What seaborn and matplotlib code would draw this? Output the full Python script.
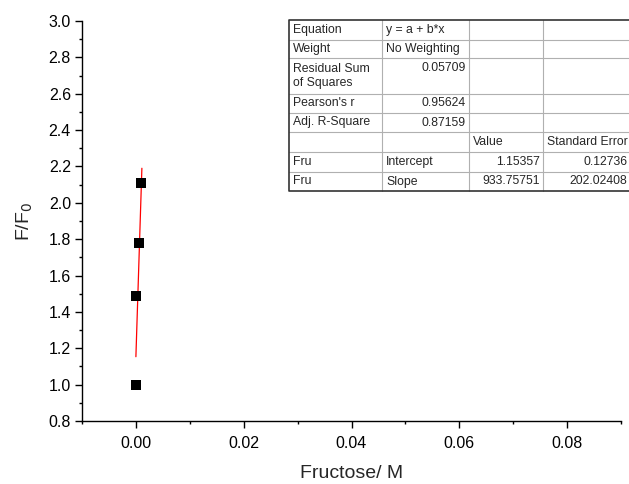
import matplotlib
matplotlib.use("Agg")
import matplotlib.pyplot as plt
import seaborn as sns
import numpy as np
import pandas as pd
from matplotlib.ticker import MultipleLocator, FormatStrFormatter
from matplotlib.lines import Line2D

# ---- data ----
fructose = [0.0, 0.0001, 0.0005, 0.001]
ff0 = [1.0, 1.49, 1.78, 2.11]
fit_intercept = 1.15357
fit_slope = 933.75751
fit_x = [0.0, 0.00111]

# ---- table text ----
tbl_col1 = ["Equation", "Weight", "Residual Sum\nof Squares", "Pearson's r", "Adj. R-Square", "", "Fru", "Fru"]
tbl_col2 = ["y = a + b*x", "No Weighting", "0.05709", "0.95624", "0.87159", "", "Intercept", "Slope"]
tbl_col3 = ["", "", "", "", "", "Value", "1.15357", "933.75751"]
tbl_col4 = ["", "", "", "", "", "Standard Error", "0.12736", "202.02408"]

sns.set_style("ticks")
plt.rcParams['font.family'] = ['Liberation Sans', 'DejaVu Sans']

W, H = 629, 484
fig = plt.figure(figsize=(W / 100, H / 100), dpi=100)
ax = fig.add_axes([82 / W, 1 - 421 / H, (621 - 82) / W, (421 - 21) / H])

df = pd.DataFrame({"x": fructose, "y": ff0})
fit_y = [fit_intercept + fit_slope * v for v in fit_x]
dfl = pd.DataFrame({"x": fit_x, "y": fit_y})

sns.lineplot(data=dfl, x="x", y="y", ax=ax, color="red", linewidth=0.9)
sns.scatterplot(data=df, x="x", y="y", ax=ax, marker="s", s=42, color="black",
                linewidth=0, zorder=3)

ax.set_xlim(-0.01, 0.09)
ax.set_ylim(0.8, 3.0)
ax.xaxis.set_major_locator(MultipleLocator(0.02))
ax.xaxis.set_minor_locator(MultipleLocator(0.01))
ax.yaxis.set_major_locator(MultipleLocator(0.2))
ax.yaxis.set_minor_locator(MultipleLocator(0.1))
ax.xaxis.set_major_formatter(FormatStrFormatter("%.2f"))
ax.yaxis.set_major_formatter(FormatStrFormatter("%.1f"))
for s in ["top", "right"]:
    ax.spines[s].set_visible(False)
for s in ["left", "bottom"]:
    ax.spines[s].set_linewidth(1.0)
    ax.spines[s].set_color("black")
ax.tick_params(which="major", direction="out", length=5, width=1, labelsize=11.5,
               colors="black", pad=3)
ax.tick_params(which="minor", direction="out", length=2.5, width=1, colors="black")
ax.tick_params(axis="x", pad=6)
ax.set_xlabel("Fructose/ M", fontsize=14, labelpad=10)
ax.set_ylabel("F/F$_0$", fontsize=14, labelpad=10)

# ---- stats table (figure pixel coordinates) ----
def fx(px):
    return px / W

def fy(py):
    return 1 - py / H

col_edges = [289, 382, 469, 543, 640]
row_edges = [20, 40, 58, 94, 113, 132, 152, 172, 191]
fs = 8.8
grey = "#b0b0b0"

for xe in col_edges[1:-1]:
    fig.add_artist(Line2D([fx(xe), fx(xe)], [fy(row_edges[0]), fy(row_edges[-1])],
                          color=grey, lw=0.8))
for ye in row_edges[1:-1]:
    fig.add_artist(Line2D([fx(col_edges[0]), fx(col_edges[-1])], [fy(ye), fy(ye)],
                          color=grey, lw=0.8))
fig.add_artist(Line2D([fx(col_edges[-1]), fx(289), fx(289), fx(col_edges[-1])],
                      [fy(20), fy(20), fy(191), fy(191)], color="#333333", lw=1.2))

def cell_text(txt, ci, ri, align, xright=None):
    if not txt:
        return
    if ri == 2:
        yc = row_edges[ri] + 10
    else:
        yc = (row_edges[ri] + row_edges[ri + 1]) / 2
    if align == "left":
        xp = col_edges[ci] + 4
    else:
        xp = xright if xright is not None else col_edges[ci + 1] - 3
    if "\n" in txt:
        lines = txt.split("\n")
        for k, ln in enumerate(lines):
            fig.text(fx(xp), fy(row_edges[ri] + 11.5 + 13.5 * k), ln, ha=align,
                     va="center", fontsize=fs)
    else:
        fig.text(fx(xp), fy(yc), txt, ha=align, va="center", fontsize=fs)

for ri in range(8):
    cell_text(tbl_col1[ri], 0, ri, "left")
    cell_text(tbl_col2[ri], 1, ri, "left" if ri in (0, 1, 6, 7) else "right")
    cell_text(tbl_col3[ri], 2, ri, "left" if ri == 5 else "right")
    cell_text(tbl_col4[ri], 3, ri, "left" if ri == 5 else "right", xright=627)

fig.savefig("out.png", dpi=100)
